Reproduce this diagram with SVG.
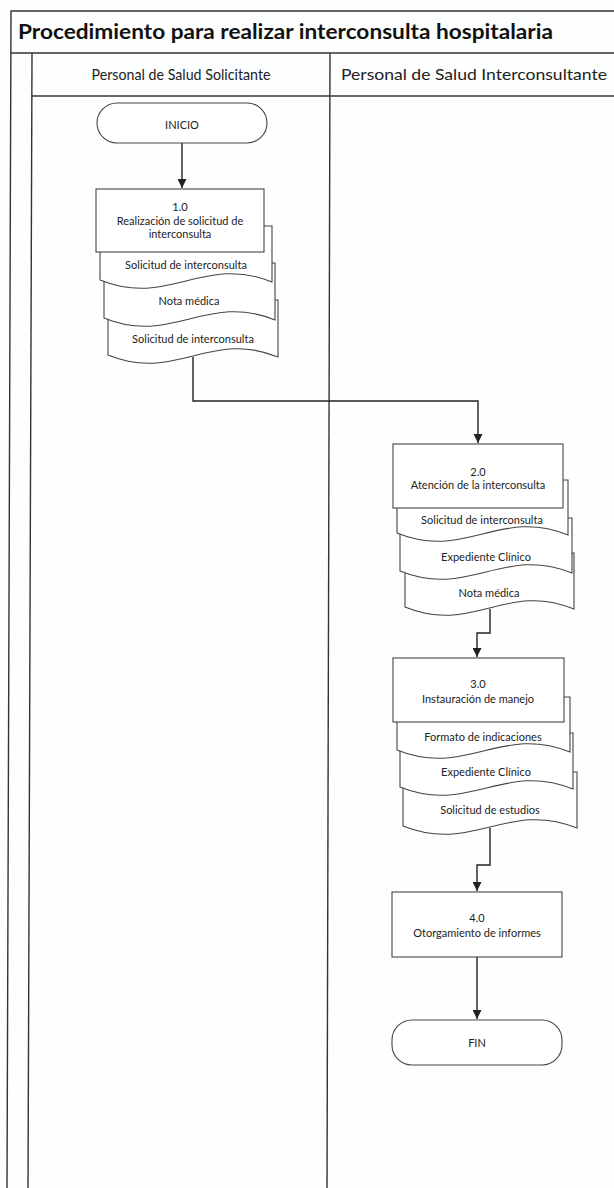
<svg xmlns="http://www.w3.org/2000/svg" width="614" height="1188" viewBox="0 0 614 1188">
<defs>
<marker id="arr" viewBox="0 0 10 10" refX="10" refY="5" markerWidth="9" markerHeight="9" markerUnits="userSpaceOnUse" orient="auto">
<path d="M0,0 L10,5 L0,10 Z" fill="#222"/>
</marker>
<style>
.frame{fill:none;stroke:#333;stroke-width:1.4}
.shape{fill:#fff;stroke:#444;stroke-width:1.1}
.conn{fill:none;stroke:#222;stroke-width:1.4}
.t{font-family:Lato,"Liberation Sans",sans-serif;font-size:11px;fill:#222;text-anchor:middle}
.h{font-family:Lato,"Liberation Sans",sans-serif;font-size:15px;fill:#222}
.title{font-family:Lato,"Liberation Sans",sans-serif;font-size:20px;font-weight:bold;fill:#111}
</style>
</defs>
<rect width="614" height="1188" fill="#fdfefe"/>
<g id="frame">
<path class="frame" d="M620,11 H11 L7,1190"/>
<path class="frame" d="M11,53 H620"/>
<path class="frame" d="M32,53 L28,1190"/>
<path class="frame" d="M32,96 H620"/>
<path class="frame" d="M330,53 L327,1190"/>
<text class="title" x="18" y="39" textLength="535" lengthAdjust="spacingAndGlyphs">Procedimiento para realizar interconsulta hospitalaria</text>
<text class="h" x="181" y="80" text-anchor="middle" textLength="179" lengthAdjust="spacingAndGlyphs">Personal de Salud Solicitante</text>
<text class="h" x="341" y="80" textLength="266" lengthAdjust="spacingAndGlyphs">Personal de Salud Interconsultante</text>
</g>
<g id="connectors">
<path class="conn" d="M182,143 V188" marker-end="url(#arr)"/>
<path class="conn" d="M193,357 V401 H478 V443" marker-end="url(#arr)"/>
<path class="conn" d="M490,609 V633 H477 V657" marker-end="url(#arr)"/>
<path class="conn" d="M490,828 V865 H477 V891" marker-end="url(#arr)"/>
<path class="conn" d="M477,957 V1019" marker-end="url(#arr)"/>
</g>
<g id="inicio">
<rect class="shape" x="97" y="103" width="170" height="40" rx="20"/>
<text class="t" x="182" y="129">INICIO</text>
</g>
<g id="act1">
<path class="shape" d="M108,300 H278 V357 C210,329 176,383 108,355 Z"/>
<text class="t" x="193" y="343">Solicitud de interconsulta</text>
<path class="shape" d="M104,263 H275 V320 C207,292 172,346 104,318 Z"/>
<text class="t" x="189" y="305">Nota médica</text>
<path class="shape" d="M100,226 H272 V282 C203,254 169,308 100,280 Z"/>
<text class="t" x="186" y="269">Solicitud de interconsulta</text>
<rect class="shape" x="96" y="189" width="168" height="63"/>
<text class="t" x="180" y="211">1.0</text>
<text class="t" x="180" y="225">Realización de solicitud de</text>
<text class="t" x="180" y="238">interconsulta</text>
</g>
<g id="act2">
<path class="shape" d="M405,553 H574 V609 C506,581 473,635 405,607 Z"/>
<text class="t" x="489" y="597">Nota médica</text>
<path class="shape" d="M400,518 H572 V573 C503,545 469,599 400,571 Z"/>
<text class="t" x="486" y="561">Expediente Clínico</text>
<path class="shape" d="M397,480 H568 V535 C500,507 465,561 397,533 Z"/>
<text class="t" x="482" y="524">Solicitud de interconsulta</text>
<rect class="shape" x="393" y="444" width="170" height="64"/>
<text class="t" x="478" y="476">2.0</text>
<text class="t" x="478" y="489">Atención de la interconsulta</text>
</g>
<g id="act3">
<path class="shape" d="M403,772 H577 V828 C507,800 473,854 403,826 Z"/>
<text class="t" x="490" y="814">Solicitud de estudios</text>
<path class="shape" d="M400,733 H573 V789 C504,761 469,815 400,787 Z"/>
<text class="t" x="486" y="776">Expediente Clínico</text>
<path class="shape" d="M397,697 H570 V752 C501,724 466,778 397,750 Z"/>
<text class="t" x="483" y="741">Formato de indicaciones</text>
<rect class="shape" x="393" y="658" width="171" height="64"/>
<text class="t" x="478" y="688">3.0</text>
<text class="t" x="478" y="703">Instauración de manejo</text>
</g>
<g id="act4">
<rect class="shape" x="392" y="892" width="170" height="65"/>
<text class="t" x="477" y="922">4.0</text>
<text class="t" x="477" y="937">Otorgamiento de informes</text>
</g>
<g id="fin">
<rect class="shape" x="392" y="1020" width="170" height="45" rx="20"/>
<text class="t" x="477" y="1047">FIN</text>
</g>
</svg>
